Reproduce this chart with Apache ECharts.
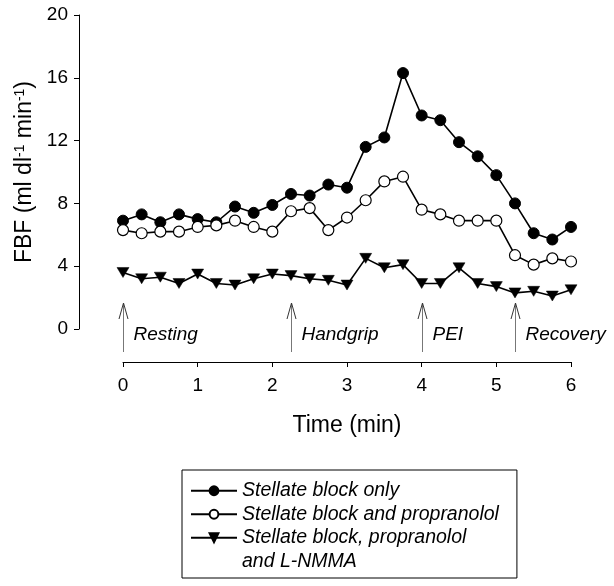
<!DOCTYPE html>
<html><head><meta charset="utf-8">
<script src="https://cdn.jsdelivr.net/npm/echarts@6/dist/echarts.min.js"></script>
<style>html,body{margin:0;padding:0;background:#fff}#c{width:614px;height:586px}</style>
</head><body><div id="c"></div>
<script>
const times = [0, 0.25, 0.5, 0.75, 1, 1.25, 1.5, 1.75, 2, 2.25, 2.5, 2.75, 3, 3.25, 3.5, 3.75, 4, 4.25, 4.5, 4.75, 5, 5.25, 5.5, 5.75, 6];
const stellateOnly = [6.9, 7.3, 6.8, 7.3, 7.0, 6.8, 7.8, 7.4, 7.9, 8.6, 8.5, 9.2, 9.0, 11.6, 12.2, 16.3, 13.6, 13.3, 11.9, 11.0, 9.8, 8.0, 6.1, 5.7, 6.5];
const stellateProp = [6.3, 6.1, 6.2, 6.2, 6.5, 6.6, 6.9, 6.5, 6.2, 7.5, 7.7, 6.3, 7.1, 8.2, 9.4, 9.7, 7.6, 7.3, 6.9, 6.9, 6.9, 4.7, 4.1, 4.5, 4.3];
const stellatePropLnmma = [3.6, 3.2, 3.3, 2.9, 3.5, 2.9, 2.8, 3.2, 3.5, 3.4, 3.2, 3.1, 2.8, 4.5, 3.9, 4.1, 2.9, 2.9, 3.9, 2.9, 2.7, 2.3, 2.4, 2.1, 2.5];
const phaseTimes = [0, 2.25, 4, 5.25];
const phaseLabels = ['Resting', 'Handgrip', 'PEI', 'Recovery'];
const seriesNames = ['Stellate block only', 'Stellate block and propranolol', 'Stellate block, propranolol and L-NMMA'];
const legendLabel3 = ['Stellate block, propranolol', 'and L-NMMA'];

const FONT = '"Liberation Sans", Arial, Helvetica, sans-serif';
const pairs = arr => times.map((t, i) => [t, arr[i]]);
const triPath = 'path://M0,0 L12,0 L6,10 Z';

const chart = echarts.init(document.getElementById('c'), null, {renderer: 'canvas'});
const legendText = {fontFamily: FONT, fontSize: 19.5, fontStyle: 'italic', color: '#000', lineHeight: 23.5};
chart.setOption({
  animation: false,
  backgroundColor: '#fff',
  textStyle: {fontFamily: FONT},
  grid: {left: 123, right: 43, top: 15, bottom: 257},
  xAxis: {
    type: 'value', min: 0, max: 6, interval: 1, position: 'bottom', offset: 33,
    name: 'Time (min)', nameLocation: 'middle', nameGap: 52,
    nameTextStyle: {fontFamily: FONT, fontSize: 23, color: '#000'},
    axisLine: {onZero: false, lineStyle: {color: '#000', width: 1}},
    axisTick: {length: 5, lineStyle: {color: '#000'}},
    axisLabel: {fontFamily: FONT, fontSize: 19, color: '#000', margin: 14},
    splitLine: {show: false}
  },
  yAxis: {
    type: 'value', min: 0, max: 20, interval: 4, offset: 44,
    name: 'FBF (ml dl{s|-1} min{s|-1})', nameLocation: 'middle', nameGap: 37,
    nameTextStyle: {fontFamily: FONT, fontSize: 23, color: '#000',
      rich: {s: {fontFamily: FONT, fontSize: 14, color: '#000', verticalAlign: 'top', padding: [0, 0, 9, 0]}}},
    axisLine: {show: true, onZero: false, lineStyle: {color: '#000', width: 1}},
    axisTick: {show: true, length: 5, lineStyle: {color: '#000'}},
    axisLabel: {fontFamily: FONT, fontSize: 19, color: '#000', margin: 11},
    splitLine: {show: false}
  },
  legend: [
    {
      data: [seriesNames[0], seriesNames[1]], orient: 'vertical', left: 182, top: 470,
      padding: [9, 18, 52, 8], itemGap: 0, itemWidth: 46, itemHeight: 11, itemTextGap: 12,
      borderColor: '#000', borderWidth: 1, selectedMode: false, textStyle: legendText
    },
    {
      data: [seriesNames[2]], orient: 'vertical', left: 190, top: 502.5,
      padding: 0, itemWidth: 46, itemHeight: 11, itemTextGap: 12, selectedMode: false,
      formatter: () => '\n' + legendLabel3.join('\n'),
      textStyle: legendText
    }
  ],
  series: [
    {
      name: seriesNames[0], type: 'line', data: pairs(stellateOnly),
      symbol: 'circle', symbolSize: 11,
      lineStyle: {color: '#000', width: 1.6}, itemStyle: {color: '#000', borderColor: '#000', borderWidth: 1}, z: 3
    },
    {
      name: seriesNames[1], type: 'line', data: pairs(stellateProp),
      symbol: 'circle', symbolSize: 11,
      lineStyle: {color: '#000', width: 1.6}, itemStyle: {color: '#fff', borderColor: '#000', borderWidth: 1.2}, z: 3
    },
    {
      name: seriesNames[2], type: 'line', data: pairs(stellatePropLnmma),
      symbol: triPath, symbolSize: [12, 10],
      lineStyle: {color: '#000', width: 1.6}, itemStyle: {color: '#000', borderColor: '#000', borderWidth: 0.5}, z: 3
    },
    {
      type: 'custom', silent: true, clip: false, z: 2,
      encode: {x: 0, y: 1},
      data: phaseTimes.map(t => [t, 0]),
      renderItem: function (params, api) {
        const p = api.coord([api.value(0), api.value(1)]);
        const x = Math.round(p[0]) + 0.5, y = p[1];
        return {
          type: 'group',
          children: [
            {type: 'line', shape: {x1: x, y1: y + 23, x2: x, y2: y - 26}, style: {stroke: '#777', lineWidth: 1}},
            {type: 'polyline', shape: {points: [[x - 4.5, y - 10], [x, y - 26], [x + 4.5, y - 10]]}, style: {stroke: '#333', lineWidth: 1, fill: null}},
            {type: 'text', x: x + 10, y: y + 6, style: {text: phaseLabels[params.dataIndex], font: 'italic 19px ' + FONT, fill: '#000', align: 'left', verticalAlign: 'middle'}}
          ]
        };
      }
    }
  ]
});
</script>
</body></html>
